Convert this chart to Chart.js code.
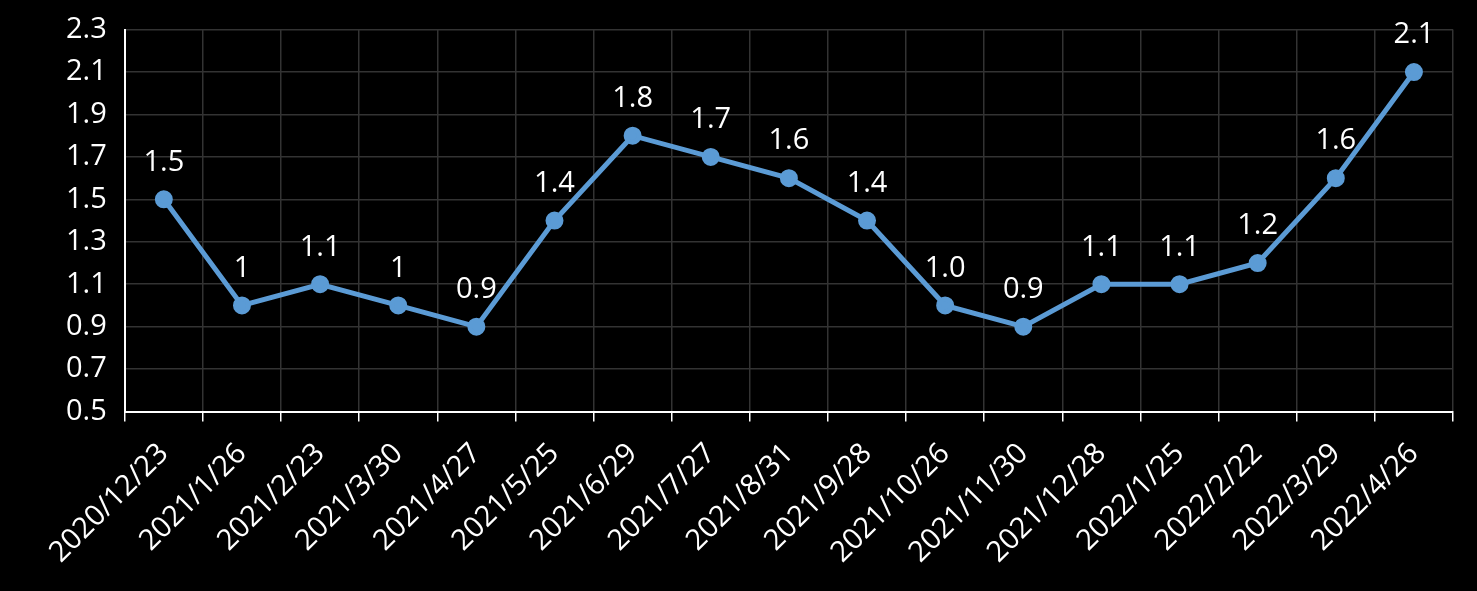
<!DOCTYPE html>
<html lang="zh">
<head>
<meta charset="UTF-8">
<title>Line chart</title>
<script src="https://cdn.jsdelivr.net/npm/chart.js"></script>
<style>
  html, body { margin: 0; padding: 0; background: #000; }
  #wrap { position: relative; width: 1477px; height: 591px; }
</style>
</head>
<body>
<div id="wrap"><canvas id="chart"></canvas></div>
<script>
const dates = ['2020/12/23', '2021/1/26', '2021/2/23', '2021/3/30', '2021/4/27', '2021/5/25',
  '2021/6/29', '2021/7/27', '2021/8/31', '2021/9/28', '2021/10/26', '2021/11/30',
  '2021/12/28', '2022/1/25', '2022/2/22', '2022/3/29', '2022/4/26'];
const values = [1.5, 1.0, 1.1, 1.0, 0.9, 1.4, 1.8, 1.7, 1.6, 1.4, 1.0, 0.9, 1.1, 1.1, 1.2, 1.6, 2.1];
const valueLabels = ['1.5', '1', '1.1', '1', '0.9', '1.4', '1.8', '1.7', '1.6', '1.4', '1.0', '0.9',
  '1.1', '1.1', '1.2', '1.6', '2.1'];
const yMin = 0.5, yMax = 2.3, yStep = 0.2;

const fontFamily = '"Open Sans", "Noto Sans", sans-serif';
const fontSize = 29;

// draws the value above each point
const pointLabels = {
  id: 'pointLabels',
  afterDatasetsDraw(chart) {
    const c = chart.ctx;
    const meta = chart.getDatasetMeta(0);
    c.save();
    c.fillStyle = '#fff';
    c.font = fontSize + 'px ' + fontFamily;
    c.textAlign = 'center';
    c.textBaseline = 'middle';
    meta.data.forEach((pt, i) => {
      c.fillText(valueLabels[i], pt.x, pt.y - 37);
    });
    c.restore();
  }
};

new Chart(document.getElementById('chart'), {
  type: 'line',
  data: {
    labels: dates,
    datasets: [{
      data: values,
      borderColor: '#5b9bd5',
      backgroundColor: '#5b9bd5',
      borderWidth: 5,
      pointRadius: 6.5,
      pointHoverRadius: 6.5,
      tension: 0
    }]
  },
  options: {
    responsive: true,
    maintainAspectRatio: false,
    animation: false,
    layout: { padding: { left: 48, right: 24, top: 28, bottom: 6 } },
    plugins: { legend: { display: false }, tooltip: { enabled: false } },
    scales: {
      x: {
        offset: true,
        grid: { offset: true, color: '#333', tickColor: '#fff', tickLength: 10, lineWidth: 1.5 },
        border: { color: '#fff', width: 2 },
        ticks: { color: '#fff', font: { size: fontSize, family: fontFamily }, maxRotation: 45, minRotation: 45, autoSkip: false, padding: 15 }
      },
      y: {
        min: yMin,
        max: yMax,
        grid: { color: '#333', drawTicks: false, lineWidth: 1.5 },
        border: { color: '#fff', width: 2 },
        ticks: {
          stepSize: yStep,
          color: '#fff',
          padding: 18,
          font: { size: fontSize, family: fontFamily, lineHeight: 0.8 },
          callback: v => v.toFixed(1)
        }
      }
    }
  },
  plugins: [pointLabels]
});
</script>
</body>
</html>
